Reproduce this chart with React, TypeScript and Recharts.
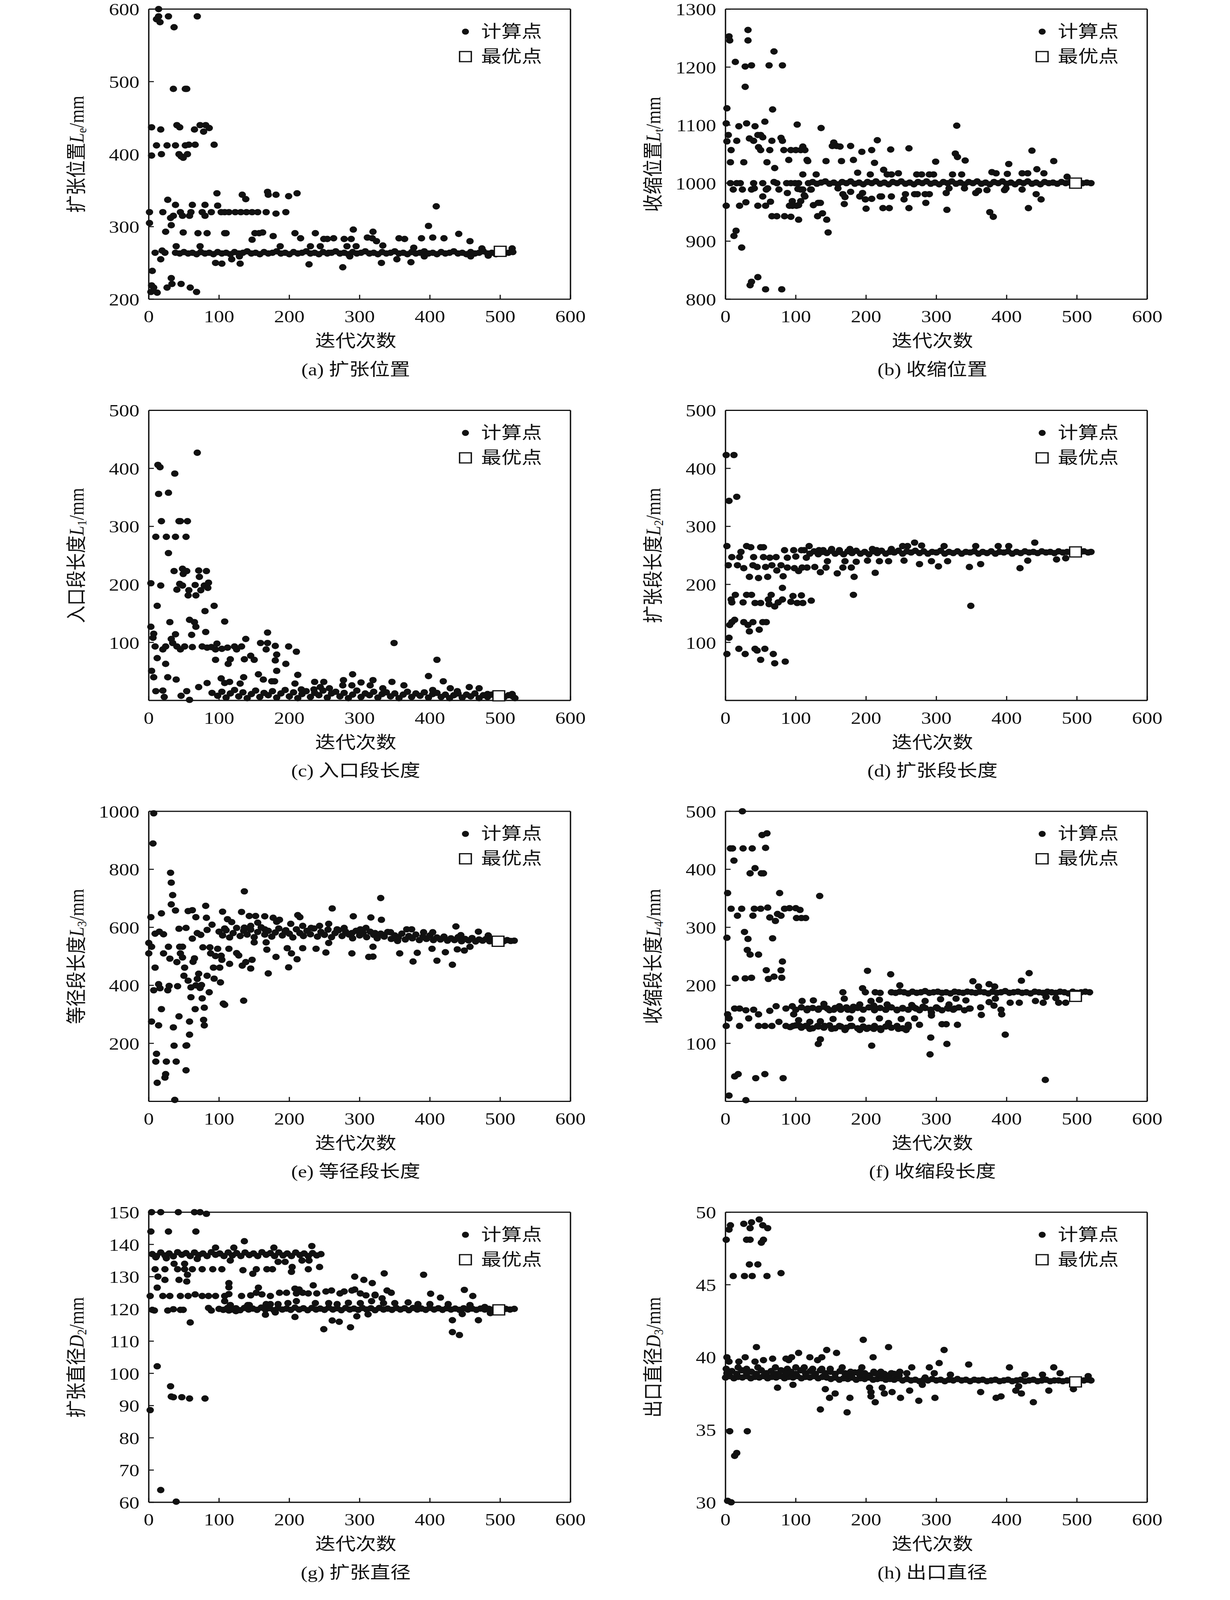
import { ScatterChart, Scatter, XAxis, YAxis, Legend, ReferenceLine } from "recharts";

type P = [number, number];

const SERIF = "'Liberation Serif', 'Times New Roman', 'Noto Sans CJK SC', serif";
const INK = "#111";

// shared x axis
const xTicks = [0, 100, 200, 300, 400, 500, 600];

// ── (a) 扩张位置 ───────────────────────────────────────────────
const aTicks = [200, 300, 400, 500, 600];
const aPts: P[] = [
  [14,600],[11,586],[14,590],[16,582],[28,590],[36,575],[69,590],
  [35,490],[52,490],[54,490],
  [4,437],[17,434],[40,440],[44,437],[65,434],[73,440],[78,431],[81,440],[86,436],
  [11,412],[26,412],[38,412],[52,412],[57,413],[66,413],[93,413],
  [4,398],[18,400],[43,400],[46,397],[49,395],[55,400],
  [97,346],[133,344],[138,338],[169,348],[170,344],[181,344],[199,342],[211,346],[27,337],
  [1,320],[20,320],[38,330],[45,320],[62,330],[60,320],[80,330],[76,320],[89,320],[98,329],[103,320],[108,320],[114,320],[123,320],[131,320],[139,320],[147,320],[155,320],[167,320],[181,318],[195,320],[31,312],[35,315],[48,315],[58,315],[80,315],
  [1,305],[32,302],
  [24,293],[49,292],[70,291],[83,291],[108,291],[110,291],[151,291],[157,291],[162,292],[147,282],[177,287],[208,291],[216,284],[237,291],[249,283],[254,283],[263,284],[278,283],[291,296],[288,283],[311,285],[319,293],[318,284],[324,280],[333,274],[356,284],[364,283],[388,284],[398,301],[404,285],[409,328],[420,284],[441,290],[457,280],
  [39,273],[73,273],[187,273],[230,273],[244,273],[282,273],[295,273],[377,271],[474,270],[517,270],
  [17,255],[9,264],[19,267],[23,264],[95,250],[104,249],[118,255],[130,249],[129,259],[228,248],[256,264],[276,244],[286,259],[331,250],[353,255],[373,251],[392,259],[458,259],[483,260],
  [5,239],[4,219],[7,216],[3,210],[12,209],[26,216],[32,229],[33,221],[46,221],[59,216],[68,210],
];
const aBand: P[] = [
  [38,264],[44,263],[50,265],[56,263],[62,264],[68,262],[74,265],[80,263],[86,264],[92,262],[98,265],[104,263],[110,264],[116,262],[122,265],[128,263],[134,264],[140,266],[146,263],[152,264],[158,262],[164,265],[170,263],[176,264],[182,266],[188,263],[194,264],[200,262],[206,265],[212,263],[218,264],[224,266],[230,263],[236,264],[242,262],[248,265],[254,263],[260,264],[266,266],[272,263],[278,264],[284,262],[290,265],[296,263],[302,264],[308,266],[314,263],[320,264],[326,262],[332,265],[338,263],[344,264],[350,266],[356,263],[362,264],[368,262],[374,265],[380,263],[386,264],[392,266],[398,263],[404,264],[410,262],[416,265],[422,263],[428,264],[434,266],[440,263],[446,264],[452,262],[458,265],[464,263],[470,264],[476,266],[482,263],[488,264],[494,262],[500,265],[506,263],[512,264],[518,265],
];
const aBest: P[] = [[500, 266]];

// ── (b) 收缩位置 ───────────────────────────────────────────────
const bTicks = [800, 900, 1000, 1100, 1200, 1300];
const bPts: P[] = [
  [5,1253],[6,1246],[32,1264],[32,1246],[14,1209],[28,1201],[37,1203],[62,1203],[81,1203],[69,1227],[28,1166],[2,1129],[67,1127],[1,1103],[19,1098],[30,1103],[42,1098],[56,1106],[102,1101],[136,1095],[329,1099],
  [4,1083],[2,1072],[16,1073],[34,1077],[40,1073],[46,1083],[50,1083],[53,1079],[66,1073],[79,1078],[81,1073],
  [8,1057],[47,1062],[50,1057],[63,1057],[83,1057],[93,1057],[100,1057],[107,1057],[110,1063],[113,1057],[154,1070],[152,1064],[158,1064],[163,1063],[178,1064],[194,1054],[208,1057],[216,1074],[235,1058],[261,1060],[436,1056],
  [7,1036],[26,1036],[59,1036],[90,1040],[116,1040],[117,1038],[143,1038],[165,1038],[182,1040],[212,1035],[299,1037],[327,1051],[330,1045],[341,1039],[403,1033],[467,1038],
  [70,1026],[110,1015],[129,1015],[188,1018],[206,1015],[225,1023],[230,1015],[236,1015],[246,1017],[272,1015],[279,1015],[290,1015],[296,1015],[323,1015],[336,1015],[379,1019],[385,1017],[401,1016],[422,1017],[430,1017],[443,1024],[453,1017],[486,1011],
  [7,1000],[16,1000],[21,1000],[40,1000],[53,1000],[69,1002],[73,1000],[87,1000],[93,1000],[99,1000],[104,1000],
  [11,989],[24,989],[37,989],[41,991],[53,977],[58,989],[60,991],[76,989],[88,983],[103,990],[107,989],[110,989],[122,989],[113,977],[104,962],[95,969],[91,961],[95,961],[101,961],[107,969],[121,989],[112,979],[125,962],[132,966],[135,966],[131,943],[138,948],[144,937],[146,915],[104,937],[160,991],[167,981],[169,964],[170,976],[178,985],[191,977],[195,983],[199,972],[208,973],[200,956],[220,977],[222,977],[224,957],[233,957],[236,977],[254,972],[256,981],[261,957],[269,981],[273,981],[284,981],[285,966],[290,981],[314,983],[315,954],[318,991],[340,991],[356,983],[360,987],[372,988],[376,950],[381,942],[397,988],[399,991],[422,989],[431,957],[442,981],[449,972],
  [1,961],[20,961],[29,967],[46,961],[57,961],[64,968],[66,943],[73,943],[84,943],[93,942],
  [15,918],[12,909],[23,889],
  [35,824],[37,830],[46,838],[57,817],[80,817],
];
const bBand: P[] = [
  [118,1000],[124,1002],[130,999],[136,1001],[142,1003],[148,999],[154,1001],[160,998],[166,1002],[172,1000],[178,1003],[184,999],[190,1001],[196,998],[202,1002],[208,1000],[214,1003],[220,999],[226,1001],[232,998],[238,1002],[244,1000],[250,1003],[256,999],[262,1001],[268,998],[274,1002],[280,1000],[286,1003],[292,999],[298,1001],[304,998],[310,1002],[316,1000],[322,1003],[328,999],[334,1001],[340,998],[346,1002],[352,1000],[358,1003],[364,999],[370,1001],[376,998],[382,1002],[388,1000],[394,1003],[400,999],[406,1001],[412,998],[418,1002],[424,1000],[430,1003],[436,999],[442,1001],[448,998],[454,1002],[460,1000],[466,1001],[472,999],[478,1002],[484,1000],[490,1001],[496,999],[502,1001],[508,1000],[514,1001],[520,1000],
];
const bBest: P[] = [[498, 1000]];

// ── (c) 入口段长度 ─────────────────────────────────────────────
const cTicks = [100, 200, 300, 400, 500];
const cPts: P[] = [
  [69,427],[13,406],[16,402],[37,391],[14,356],[28,358],
  [18,309],[43,309],[45,309],[55,309],
  [10,282],[25,282],[38,282],[53,282],[28,254],
  [36,223],[48,227],[49,218],[54,223],[71,224],[72,213],[82,223],
  [3,202],[17,198],[40,191],[44,201],[48,198],[57,190],[56,181],[66,199],[67,181],[74,190],[79,198],[84,194],[85,203],
  [12,163],[80,154],[93,163],
  [30,135],[58,139],[65,135],[67,127],[108,136],
  [3,127],[7,115],[6,108],[38,114],[61,113],[81,118],[169,117],
  [9,93],[20,88],[24,93],[32,106],[34,99],[40,93],[45,88],[51,93],[62,92],[76,93],[83,91],[89,92],[95,88],[97,98],[104,89],[112,91],[122,93],[125,88],[132,93],[138,106],[159,99],[169,99],[167,88],[180,94],[182,79],[180,69],[199,93],[210,84],[349,99],
  [12,73],[24,63],[95,70],[113,63],[116,71],[136,71],[145,77],[150,70],[195,63],[182,51],[410,70],
  [4,51],[7,40],[27,40],[39,36],[103,38],[115,32],[135,40],[156,45],[163,36],[179,33],[212,44],[236,32],[249,32],[277,35],[290,45],[302,31],[319,35],[346,32],[398,42],[419,33],[429,21],[456,23],[470,21],
  [10,16],[20,17],[22,6],[46,8],[58,1],[54,16],[71,23],[83,30],[90,13],[108,30],[130,29],[175,33],[208,29],[217,19],[235,19],[244,23],[257,21],[276,26],[289,26],[315,26],[333,21],[363,26],[404,18],[439,16],[482,11],[517,11],[521,4],
];
const cBand: P[] = [
  [98,8],[104,15],[110,5],[116,12],[122,18],[128,7],[134,14],[140,4],[146,11],[152,17],[158,6],[164,13],[170,9],[176,16],[182,5],[188,12],[194,18],[200,7],[206,14],[212,4],[218,11],[224,16],[230,6],[236,13],[242,9],[248,17],[254,5],[260,12],[266,15],[272,7],[278,13],[284,4],[290,10],[296,17],[302,6],[308,12],[314,9],[320,15],[326,5],[332,11],[338,14],[344,7],[350,12],[356,4],[362,10],[368,15],[374,6],[380,12],[386,8],[392,14],[398,5],[404,11],[410,13],[416,6],[422,10],[428,4],[434,9],[440,12],[446,5],[452,10],[458,7],[464,12],[470,4],[476,9],[482,6],[488,10],[494,5],[500,8],[506,6],[512,9],[518,7],
];
const cBest: P[] = [[498, 8]];

// ── (d) 扩张段长度 ─────────────────────────────────────────────
const dTicks = [100, 200, 300, 400, 500];
const dPts: P[] = [
  [1,423],[12,423],[5,344],[16,351],
  [2,266],[30,266],[36,264],[50,264],[54,264],[84,259],[97,259],[108,259],[119,266],[112,259],[133,259],[139,259],[151,261],[162,259],[177,261],[209,261],[215,259],[236,261],[252,266],[259,266],[269,272],[279,267],[311,266],[356,266],[388,266],[403,266],[440,272],
  [9,247],[22,256],[20,247],[40,247],[54,247],[63,246],[72,247],[88,246],[100,248],[115,246],[145,240],[170,240],[186,239],[202,241],[219,240],[232,240],[254,241],[293,240],[316,240],[430,241],[471,243],[484,245],
  [4,233],[17,233],[26,228],[39,233],[45,230],[57,230],[66,233],[73,224],[79,233],[88,229],[98,228],[104,223],[109,229],[116,229],[127,230],[135,221],[143,229],[159,219],[167,229],[179,229],[213,220],[276,235],[303,231],[347,230],[363,235],[419,228],
  [34,213],[47,211],[60,213],[82,214],[183,213],[81,194],
  [8,174],[14,182],[9,169],[25,169],[30,182],[37,182],[42,168],[50,168],[61,174],[65,182],[62,166],[70,162],[75,169],[81,174],[93,170],[96,180],[102,168],[108,181],[110,168],[122,172],[182,182],[349,163],
  [13,139],[9,135],[6,130],[26,135],[32,130],[34,119],[39,135],[48,122],[53,135],[58,135],[5,108],
  [2,80],[19,89],[28,80],[42,89],[45,86],[56,89],[50,70],[68,80],[70,64],[85,67],
];
const dBand: P[] = [
  [120,253],[126,257],[132,252],[138,256],[144,254],[150,258],[156,253],[162,256],[168,252],[174,257],[180,254],[186,258],[192,253],[198,256],[204,252],[210,257],[216,254],[222,258],[228,253],[234,256],[240,255],[246,258],[252,253],[258,257],[264,255],[270,258],[276,254],[282,257],[288,253],[294,256],[300,255],[306,258],[312,253],[318,256],[324,254],[330,257],[336,253],[342,256],[348,255],[354,257],[360,253],[366,256],[372,254],[378,257],[384,253],[390,256],[396,255],[402,257],[408,253],[414,256],[420,254],[426,257],[432,255],[438,256],[444,254],[450,257],[456,255],[462,256],[468,254],[474,257],[480,255],[486,256],[492,255],[498,256],[504,255],[510,257],[516,255],[520,256],
];
const dBest: P[] = [[498, 256]];

// ── (e) 等径段长度 ─────────────────────────────────────────────
const eTicks = [200, 400, 600, 800, 1000];
const ePts: P[] = [
  [7,993],[6,889],[31,788],[32,754],[34,711],[32,679],[38,658],[136,724],[330,701],[261,665],
  [3,635],[18,648],[56,656],[62,659],[67,635],[81,674],[82,633],[105,654],[132,653],[143,639],[152,639],[165,638],[177,633],[186,626],[212,642],[215,635],[291,638],[316,634],[331,626],
  [43,595],[53,598],[90,609],[9,578],[15,585],[21,576],[62,561],[69,580],[74,574],[83,591],[108,596],[112,628],[118,618],[136,599],[145,605],[155,616],[165,593],[182,619],[194,586],[202,612],[219,605],[231,598],[243,605],[256,612],[268,593],[278,598],[289,580],[301,593],[309,598],[322,580],[334,573],[344,583],[354,553],[367,593],[374,593],[391,583],[404,583],[437,603],[444,573],[469,585],[483,572],
  [0,546],[4,533],[0,510],[21,510],[28,533],[30,492],[40,480],[44,533],[48,533],[45,510],[48,496],[51,461],[65,493],[63,481],[77,531],[87,531],[88,510],[95,501],[98,526],[103,502],[104,488],[114,526],[115,474],[125,511],[128,503],[133,468],[138,480],[145,458],[147,488],[150,548],[167,548],[168,523],[181,498],[197,528],[203,510],[211,490],[219,528],[238,526],[252,513],[256,546],[289,510],[313,498],[319,499],[319,533],[357,510],[376,482],[382,512],[403,526],[410,485],[422,514],[432,471],[439,524],[449,520],[457,533],
  [9,461],[50,433],[56,416],[71,440],[69,422],[83,433],[93,423],[102,410],[92,461],[101,461],[170,441],[199,462],
  [7,383],[14,404],[16,390],[27,383],[29,398],[41,397],[60,393],[67,400],[73,391],[75,401],[86,376],[60,359],[76,355],[135,347],[106,337],[108,333],
  [18,318],[66,318],[43,293],[79,323],[78,281],[79,262],[58,275],[4,275],[14,262],[35,255],[58,230],
  [36,192],[53,192],[54,193],[11,164],[10,137],[25,137],[39,137],[53,107],[24,94],[23,82],[12,64],[37,5],
];
const eBand: P[] = [
  [100,585],[105,572],[110,590],[115,565],[120,580],[125,598],[130,570],[135,588],[140,575],[145,592],[150,566],[155,584],[160,600],[165,575],[170,588],[175,568],[180,582],[185,596],[190,572],[195,590],[200,578],[205,565],[210,593],[215,580],[220,570],[225,588],[230,576],[235,596],[240,568],[245,584],[250,574],[255,592],[260,566],[265,580],[270,590],[275,570],[280,585],[285,575],[290,562],[295,588],[300,572],[305,580],[310,566],[315,585],[320,574],[325,562],[330,578],[335,568],[340,584],[345,560],[350,572],[355,565],[360,578],[365,558],[370,570],[375,562],[380,575],[385,556],[390,568],[395,560],[400,572],[405,556],[410,565],[415,558],[420,568],[425,554],[430,562],[435,556],[440,566],[445,552],[450,560],[455,555],[460,563],[465,551],[470,558],[475,554],[480,560],[485,552],[490,557],[495,553],[500,556],[505,552],[510,556],[515,553],[520,554],
];
const eBest: P[] = [[497, 552]];

// ── (f) 收缩段长度 ─────────────────────────────────────────────
const fTicks = [100, 200, 300, 400, 500];
const fPts: P[] = [
  [24,500],[52,459],[59,462],[7,436],[10,436],[25,436],[38,436],[57,437],[12,415],[35,393],[42,402],[51,393],[54,393],
  [3,359],[77,359],[134,354],
  [8,332],[23,332],[41,332],[50,332],[60,334],[84,332],[91,333],[100,333],[106,330],[17,320],[39,320],[63,317],[71,311],[74,323],[79,320],[101,316],[108,316],[114,316],
  [2,282],[27,292],[32,280],[31,261],[35,253],[47,253],[67,281],[81,241],
  [58,226],[79,226],[80,213],[14,212],[28,212],[37,213],[61,211],[69,215],
  [202,225],[235,219],[248,200],[352,207],[432,221],[421,208],[375,202],[383,198],[360,198],
  [167,188],[195,195],[199,188],[213,188],[220,187],
  [3,150],[5,143],[13,160],[20,160],[29,157],[40,158],[47,150],[63,156],[72,164],[86,160],[95,164],[97,150],[109,173],[125,174],[117,160],[133,160],[140,168],[145,160],[154,158],[162,164],[169,177],[174,158],[182,163],[191,167],[207,173],[213,160],[211,165],[219,175],[228,158],[230,167],[244,158],[252,160],[265,166],[271,160],[281,163],[284,173],[293,153],[302,160],[306,176],[317,160],[318,167],[328,177],[326,160],[342,174],[347,160],[363,162],[364,149],[375,171],[382,165],[384,177],[392,158],[393,150],[405,170],[418,170],[441,173],[452,170],[474,170],[484,170],[470,178],[456,180],
  [1,130],[20,130],[47,130],[56,130],[66,130],[76,137],[86,130],[96,130],[106,130],[114,130],[120,125],[131,130],[141,130],[151,125],[162,130],[170,123],[178,130],[191,123],[201,125],[211,125],[221,123],[232,135],[246,125],[257,123],[260,132],[276,132],[308,133],[314,133],[330,132],[33,143],[104,140],[120,137],[135,138],[153,142],[177,143],[194,141],[219,143],[250,142],[269,143],[293,148],
  [132,99],[135,107],[208,96],[292,110],[291,81],[315,99],[398,115],
  [13,43],[18,47],[43,40],[56,47],[82,40],[455,37],[5,10],[29,2],
];
const fBand: P[] = [
  [236,188],[242,187],[248,189],[254,188],[260,186],[266,189],[272,187],[278,188],[284,190],[290,187],[296,188],[302,189],[308,187],[314,188],[320,186],[326,189],[332,188],[338,187],[344,189],[350,188],[356,187],[362,189],[368,188],[374,186],[380,189],[386,187],[392,188],[398,190],[404,187],[410,188],[416,189],[422,187],[428,188],[434,186],[440,189],[446,188],[452,187],[458,189],[464,188],[470,187],[476,189],[482,188],[488,186],[494,189],[500,187],[506,188],[512,189],[518,188],
];
const fBand160: P[] = [
  [100,158],[108,162],[116,157],[124,161],[132,158],[140,163],[148,157],[156,161],[164,158],[172,162],[180,157],[188,161],[196,158],[204,162],[212,157],[220,161],[228,158],[236,162],[244,157],[252,161],[260,158],[268,162],[276,157],[284,161],[292,158],[300,162],[308,157],[316,161],[324,158],[332,162],[340,157],[348,160],
];
const fBand130: P[] = [
  [92,128],[100,131],[108,127],[116,130],[124,126],[132,129],[140,127],[148,131],[156,126],[164,129],[172,127],[180,130],[188,126],[196,129],[204,127],[212,130],[220,126],[228,129],[236,127],[244,130],[252,126],[260,128],
];
const fBest: P[] = [[498, 181]];

// ── (g) 扩张直径 ───────────────────────────────────────────────
const gTicks = [60, 70, 80, 90, 100, 110, 120, 130, 140, 150];
const gPts: P[] = [
  [4,150],[17,150],[42,150],[65,150],[73,150],[82,149.5],
  [3,144],[28,144],[67,144],[136,141],
  [232,139.5],[178,139],[121,139],[95,139],
  [10,136],[25,135.7],[36,134],[51,134],[69,135.5],[116,135],[184,134.6],[194,134.6],[218,135],[228,135],
  [9,132.3],[23,132.3],[41,132.3],[51,132.3],[62,132.3],[76,132.3],[91,132.3],[104,132.3],[134,132],[153,132.3],[168,132.3],[176,132.3],[204,133],[203,131.5],[227,132.3],[243,133],[55,130.6],[148,130.9],
  [13,130],[23,129],[43,129],[54,128.5],[12,126.6],[114,128],[114,126.7],[156,126.6],[293,130],[306,129],[318,128],[335,131],[391,130.6],[339,125.7],[345,125],[401,124.7],[415,123.5],[449,125.9],[461,124],[234,127.3],[208,126.3],[214,126],[293,126],[322,124.4],
  [2,124],[20,124],[30,124],[45,124],[56,124],[66,124.5],[76,124],[85,124],[95,124],[108,124],[114,124.6],[132,124],[145,124.2],[153,125],[161,124.5],[173,124],[186,125],[196,125],[210,124.8],[219,125],[227,124.8],[239,124.8],[252,125.4],[260,125.7],[272,124.8],[278,125.4],[289,125.7],[301,124.8],[309,124.2],[322,124.2],[332,123.3],
  [108,122.4],[116,121.2],[141,121.2],[167,121.5],[173,121.5],[184,121.5],[198,121.8],[210,122.4],[237,121.8],[256,121.8],[268,121.5],[284,121.9],[301,121.8],[317,122.4],[334,121.8],[350,121.8],[369,122],[383,121.5],[400,121.5],[426,121.5],[457,121.2],[478,120.6],
  [5,119.7],[8,119.5],[27,119.5],[35,119.9],[45,119.7],[49,119.7],[85,120.3],[89,119.5],[114,119.5],[124,119.3],[139,120.6],[143,121.2],
  [166,118.2],[180,118.9],[208,117.5],[59,115.8],[249,113.7],[261,116.4],[271,116],[287,114.3],[296,117.7],[312,118.3],[432,116.5],[432,112.8],[442,111.9],[446,118.4],[469,116.5],[486,118.7],
  [12,102.2],[31,96],[32,92.8],[35,92.6],[47,92.6],[58,92.2],[80,92.2],[2,88.6],[17,63.8],[39,60.2],
];
const gBand137: P[] = [
  [5,137],[11,136.4],[17,137.5],[23,136.6],[29,137.2],[35,136.3],[41,137.6],[47,136.8],[53,137.3],[59,136.4],[65,137.5],[71,136.7],[77,137.2],[83,136.4],[89,137.6],[95,136.8],[101,137.2],[107,136.4],[113,137.5],[119,136.6],[125,137.3],[131,136.4],[137,137.5],[143,136.7],[149,137.2],[155,136.4],[161,137.6],[167,136.8],[173,137.3],[179,136.4],[185,137.5],[191,136.6],[197,137.2],[203,136.4],[209,137.5],[215,136.7],[221,137.2],[227,136.4],[233,137.3],[239,136.6],[245,137],
];
const gBand120: P[] = [
  [100,120],[106,119.7],[112,120.3],[118,119.8],[124,120.2],[130,119.6],[136,120.3],[142,119.8],[148,120.1],[154,119.7],[160,120.4],[166,119.8],[172,120.2],[178,119.6],[184,120.3],[190,119.8],[196,120.1],[202,119.7],[208,120.4],[214,119.8],[220,120.2],[226,119.6],[232,120.3],[238,119.8],[244,120.1],[250,119.7],[256,120.4],[262,119.8],[268,120.2],[274,119.6],[280,120.3],[286,119.8],[292,120.1],[298,119.7],[304,120.3],[310,119.8],[316,120.2],[322,119.6],[328,120.3],[334,119.8],[340,120.1],[346,119.7],[352,120.3],[358,119.8],[364,120.2],[370,119.6],[376,120.3],[382,119.8],[388,120.1],[394,119.7],[400,120.3],[406,119.8],[412,120.2],[418,119.7],[424,120.2],[430,119.8],[436,120.1],[442,119.7],[448,120.2],[454,119.8],[460,120.1],[466,119.7],[472,120.1],[478,119.8],[484,120],[490,119.8],[496,120],[502,119.8],[508,120],[514,119.8],[520,120],
];
const gBest: P[] = [[498, 119.7]];

// ── (h) 出口直径 ───────────────────────────────────────────────
const hTicks = [30, 35, 40, 45, 50];
const hPts: P[] = [
  [1,48.1],[5,48.8],[7,49.1],[26,49.2],[37,49.3],[35,48.9],[48,49.5],[53,49.1],[60,48.9],[30,48.1],[35,48.1],[54,48.1],[51,47.9],
  [34,46.4],[46,46.4],[11,45.6],[27,45.6],[38,45.6],[59,45.6],[79,45.8],
  [196,41.2],[44,40.7],[232,40.7],[311,40.5],[144,40.5],[158,40.3],[104,40.3],
  [2,40],[28,40],[67,39.9],[86,39.9],[94,40],[120,40],[131,39.8],[137,40],[210,40],[5,39.7],[19,39.7],[42,39.7],[54,39.8],[90,39.8],[304,39.6],[346,39.5],[404,39.3],[467,39.3],[290,39.3],[265,39.3],
  [1,39.2],[18,39.3],[30,39.2],[46,39.3],[71,39.3],[88,39.2],[100,39.3],[112,39.3],[124,39.2],[137,39.2],[149,39.2],[166,39.3],[178,39],[194,39.3],[191,39],[211,39],[221,39],[236,38.9],[248,39],[258,38.9],[284,38.6],[297,38.9],[320,38.8],[426,38.8],[451,38.8],[476,38.9],[516,38.7],
  [74,37.9],[96,38.1],[142,37.8],[148,37.2],[156,37.5],[135,36.4],[173,36.2],[177,37.2],[205,37.9],[207,37.6],[207,37.3],[213,36.9],[223,37.9],[226,37.5],[237,37.6],[249,37.2],[262,37.7],[275,37],[280,38.1],[298,37.2],[363,37.6],[385,37.2],[392,37.3],[413,37.7],[417,38],[421,37.5],[438,36.9],[460,37.7],[495,37.8],
  [6,34.9],[31,34.9],[16,33.4],[13,33.2],[3,30.1],[8,30],
];
const hBand: P[] = [
  [0,38.6],[6,38.7],[12,38.55],[18,38.65],[24,38.6],[30,38.7],[36,38.55],[42,38.65],[48,38.6],[54,38.7],[60,38.55],[66,38.65],[72,38.6],[78,38.7],[84,38.55],[90,38.65],[96,38.6],[102,38.7],[108,38.55],[114,38.65],[120,38.6],[126,38.7],[132,38.55],[138,38.65],[144,38.6],[150,38.5],[156,38.6],[162,38.45],[168,38.55],[174,38.5],[180,38.6],[186,38.45],[192,38.55],[198,38.5],[204,38.6],[210,38.45],[216,38.5],[222,38.55],[228,38.45],[234,38.5],[240,38.45],[246,38.55],[252,38.4],[258,38.5],[264,38.4],[270,38.45],[276,38.35],[282,38.45],[288,38.4],[294,38.5],[300,38.4],[306,38.45],[312,38.35],[318,38.45],[324,38.4],[330,38.5],[336,38.4],[342,38.45],[348,38.35],[354,38.45],[360,38.4],[366,38.45],[372,38.35],[378,38.4],[384,38.45],[390,38.35],[396,38.4],[402,38.45],[408,38.35],[414,38.4],[420,38.45],[426,38.35],[432,38.4],[438,38.45],[444,38.35],[450,38.4],[456,38.45],[462,38.35],[468,38.4],[474,38.4],[480,38.35],[486,38.4],[492,38.4],[498,38.35],[504,38.4],[510,38.4],[516,38.45],[520,38.4],
];
const hBand39: P[] = [
  [2,38.9],[9,39.05],[16,38.85],[23,39.1],[30,38.9],[37,39.0],[44,38.85],[51,39.1],[58,38.9],[65,39.05],[72,38.85],[79,39.1],[86,38.9],[93,39.0],[100,38.85],[107,39.1],[114,38.9],[121,39.05],[128,38.85],[135,39.1],[142,38.9],[149,39.0],[156,38.85],[163,39.05],[170,38.9],[177,38.8],[184,38.95],[191,38.8],[198,38.9],[205,38.75],[212,38.9],[219,38.8],[226,38.85],[233,38.75],[240,38.85],[247,38.75],
];
const hBest: P[] = [[498, 38.3]];

// ── layout constants (page px) ───────────────────────────────
const PAGE_W = 3150;
const PAGE_H = 4749;
const PW = 1080; // plot width
const PH = 861; // plot height
const YW = 200; // y-axis band width inside chart
const MT = 70;
const MR = 90;
const XH = 110;
const CW = YW + PW + MR;
const CH = MT + PH + XH;
const colLeft = [381, 1858];
const rowTop = [27, 1218, 2408, 3598];

const panels = [
  { pts: aPts, bands: [aBand], best: aBest, domain: [200, 600], ticks: aTicks, name: "扩张位置", sym: "L", sub: "e", caption: "(a) 扩张位置" },
  { pts: bPts, bands: [bBand], best: bBest, domain: [800, 1300], ticks: bTicks, name: "收缩位置", sym: "L", sub: "t", caption: "(b) 收缩位置" },
  { pts: cPts, bands: [cBand], best: cBest, domain: [0, 500], ticks: cTicks, name: "入口段长度", sym: "L", sub: "1", caption: "(c) 入口段长度" },
  { pts: dPts, bands: [dBand], best: dBest, domain: [0, 500], ticks: dTicks, name: "扩张段长度", sym: "L", sub: "2", caption: "(d) 扩张段长度" },
  { pts: ePts, bands: [eBand], best: eBest, domain: [0, 1000], ticks: eTicks, name: "等径段长度", sym: "L", sub: "3", caption: "(e) 等径段长度" },
  { pts: fPts, bands: [fBand, fBand160, fBand130], best: fBest, domain: [0, 500], ticks: fTicks, name: "收缩段长度", sym: "L", sub: "4", caption: "(f) 收缩段长度" },
  { pts: gPts, bands: [gBand137, gBand120], best: gBest, domain: [60, 150], ticks: gTicks, name: "扩张直径", sym: "D", sub: "2", caption: "(g) 扩张直径" },
  { pts: hPts, bands: [hBand, hBand39], best: hBest, domain: [30, 50], ticks: hTicks, name: "出口直径", sym: "D", sub: "3", caption: "(h) 出口直径" },
];

const Dot = (p: any) => <circle cx={p.cx} cy={p.cy} r={9.5} fill={INK} />;
const Box = (p: any) => (
  <rect x={p.cx - 15} y={p.cy - 15} width={30} height={30} fill="#fff" stroke={INK} strokeWidth={3.5} />
);

const LegendBox = () => (
  <div style={{ fontFamily: SERIF, fontSize: 52, color: INK }}>
    <div style={{ display: "flex", alignItems: "center", height: 74 }}>
      <svg width={40} height={40}>
        <circle cx={20} cy={20} r={9} fill={INK} />
      </svg>
      <span style={{ marginLeft: 20, lineHeight: 1 }}>计算点</span>
    </div>
    <div style={{ display: "flex", alignItems: "center", height: 74 }}>
      <svg width={40} height={40}>
        <rect x={5} y={5} width={30} height={30} fill="#fff" stroke={INK} strokeWidth={3.5} />
      </svg>
      <span style={{ marginLeft: 20, lineHeight: 1 }}>最优点</span>
    </div>
  </div>
);

const tickStyle = { fill: INK, fontSize: 52, fontFamily: SERIF };
const axisLine = { stroke: INK, strokeWidth: 3.5 };
const tickLine = { stroke: INK, strokeWidth: 3 };

const textStyle = {
  position: "absolute" as const,
  whiteSpace: "nowrap" as const,
  fontFamily: SERIF,
  fontSize: 52,
  lineHeight: 1,
  color: INK,
};

function Panel({ cfg, plotLeft, plotTop }: { cfg: (typeof panels)[number]; plotLeft: number; plotTop: number }) {
  const calc = [cfg.pts, ...cfg.bands].flat().map(([x, y]) => ({ x, y }));
  const best = cfg.best.map(([x, y]) => ({ x, y }));
  const plotBottom = plotTop + PH;
  const [y0, y1] = cfg.domain;
  return (
    <>
      <div style={{ position: "absolute", left: plotLeft - YW, top: plotTop - MT }}>
        <ScatterChart width={CW} height={CH} margin={{ top: MT, right: MR, bottom: 0, left: 0 }}>
          <XAxis
            type="number"
            dataKey="x"
            domain={[0, 600]}
            ticks={xTicks}
            interval={0}
            height={XH}
            tick={tickStyle}
            axisLine={axisLine}
            tickLine={tickLine}
            tickSize={-13}
            tickMargin={45}
          />
          <YAxis
            type="number"
            dataKey="y"
            domain={[y0, y1]}
            ticks={cfg.ticks}
            interval={0}
            width={YW}
            tick={tickStyle}
            axisLine={axisLine}
            tickLine={tickLine}
            tickSize={-13}
            tickMargin={37}
          />
          <ReferenceLine y={y1} stroke={INK} strokeWidth={3.5} />
          <ReferenceLine x={600} stroke={INK} strokeWidth={3.5} />
          <Legend
            verticalAlign="middle"
            align="center"
            layout="horizontal"
            wrapperStyle={{ left: YW + PW - 289, top: MT + 67 - 37, width: 320, height: 148 }}
            content={() => <LegendBox />}
          />
          <Scatter name="计算点" data={calc} shape={Dot} isAnimationActive={false} />
          <Scatter name="最优点" data={best} shape={Box} isAnimationActive={false} />
        </ScatterChart>
      </div>
      <div
        style={{
          ...textStyle,
          left: plotLeft - 182,
          top: plotTop + PH / 2,
          transform: "translate(-50%, -50%) rotate(-90deg)",
        }}
      >
        {cfg.name}
        <i>{cfg.sym}</i>
        <sub style={{ fontSize: 34, verticalAlign: "-0.2em" }}>{cfg.sub}</sub>/mm
      </div>
      <div style={{ ...textStyle, left: plotLeft + 530, top: plotBottom + 125, transform: "translate(-50%, -50%)" }}>
        迭代次数
      </div>
      <div style={{ ...textStyle, left: plotLeft + 530, top: plotBottom + 209, transform: "translate(-50%, -50%)" }}>
        {cfg.caption}
      </div>
    </>
  );
}

export default function App() {
  // fit the full figure into whatever part of the window is actually visible
  const vw = typeof window !== "undefined" && window.innerWidth ? window.innerWidth : PAGE_W;
  const vh = typeof window !== "undefined" && window.innerHeight ? window.innerHeight : PAGE_H;
  const sx = Math.min(1, vw / PAGE_W);
  const sy = Math.min(1, vh / PAGE_H);
  return (
    <div
      style={{
        position: "absolute",
        left: 0,
        top: 0,
        width: PAGE_W,
        height: PAGE_H,
        background: "#fff",
        overflow: "hidden",
        transform: `scale(${sx}, ${sy})`,
        transformOrigin: "0 0",
      }}
    >
      {panels.map((cfg, i) => (
        <Panel key={i} cfg={cfg} plotLeft={colLeft[i % 2]} plotTop={rowTop[Math.floor(i / 2)]} />
      ))}
    </div>
  );
}
